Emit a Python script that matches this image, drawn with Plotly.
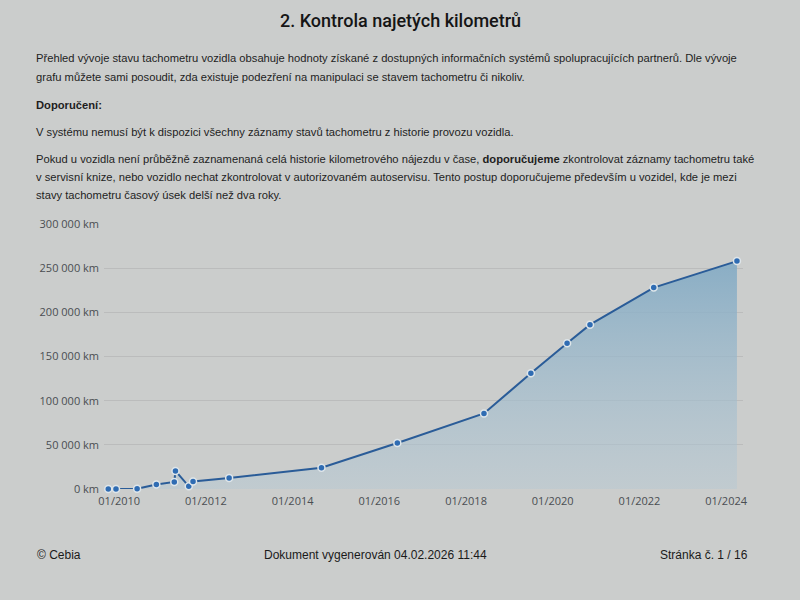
import plotly.graph_objects as go

# ---- data ----
dates = ["2009-10-01", "2009-12-05", "2010-06-01", "2010-11-10", "2011-04-10",
         "2011-04-20", "2011-08-10", "2011-09-15", "2012-07-15", "2014-09-01",
         "2016-06-01", "2018-06-01", "2019-07-01", "2020-05-01", "2020-11-10",
         "2022-05-01", "2024-04-01"]
km = [0, 0, 300, 5000, 8000, 20500, 3000, 8500, 12500, 24000,
      52000, 85500, 131000, 165000, 186000, 228000, 258000]

y_ticks = [0, 50000, 100000, 150000, 200000, 250000, 300000]
y_tick_labels = ["0 km", "50 000 km", "100 000 km", "150 000 km",
                 "200 000 km", "250 000 km", "300 000 km"]
x_ticks = ["2010-01-01", "2012-01-01", "2014-01-01", "2016-01-01",
           "2018-01-01", "2020-01-01", "2022-01-01", "2024-01-01"]
x_tick_labels = ["01/2010", "01/2012", "01/2014", "01/2016",
                 "01/2018", "01/2020", "01/2022", "01/2024"]

title_text = "2. Kontrola najetých kilometrů"
para_lines = [
    "Přehled vývoje stavu tachometru vozidla obsahuje hodnoty získané z dostupných informačních systémů spolupracujících partnerů. Dle vývoje",
    "grafu můžete sami posoudit, zda existuje podezření na manipulaci se stavem tachometru či nikoliv.",
    "<b>Doporučení:</b>",
    "V systému nemusí být k dispozici všechny záznamy stavů tachometru z historie provozu vozidla.",
    "Pokud u vozidla není průběžně zaznamenaná celá historie kilometrového nájezdu v čase, <b>doporučujeme</b> zkontrolovat záznamy tachometru také",
    "v servisní knize, nebo vozidlo nechat zkontrolovat v autorizovaném autoservisu. Tento postup doporučujeme především u vozidel, kde je mezi",
    "stavy tachometru časový úsek delší než dva roky.",
]
footer_left = "© Cebia"
footer_mid = "Dokument vygenerován 04.02.2026 11:44"
footer_right = "Stránka č. 1 / 16"

# ---- layout geometry (pixels) ----
W_FIG, H_FIG = 800, 600
L, R, T, B = 104, 57, 224, 111
PW, PH = W_FIG - L - R, H_FIG - T - B


def px_x(px):
    return (px - L) / PW


def px_y(py):
    return (H_FIG - B - py) / PH


BG = "#cbcdcc"
FONT = "Liberation Sans"

fig = go.Figure()
fig.add_trace(go.Scatter(
    x=dates, y=km, mode="lines+markers",
    line=dict(color="#2a5c98", width=2),
    marker=dict(color="#2f6cb3", size=7, line=dict(color="#dfe6ea", width=1.5)),
    fill="tozeroy",
    fillgradient=dict(type="vertical",
                      colorscale=[[0, "rgba(180,200,212,0.45)"],
                                  [1, "rgba(130,170,196,0.9)"]]),
    cliponaxis=False,
    hoverinfo="skip",
))

annotations = []
annotations.append(dict(text=title_text, x=px_x(400), y=px_y(20), xref="paper", yref="paper",
                        xanchor="center", yanchor="middle", showarrow=False,
                        font=dict(family="Roboto", size=18, weight=500, color="#151515")))
line_y = [58, 77, 105, 132, 159, 177, 195]
for txt, py in zip(para_lines, line_y):
    annotations.append(dict(text=txt, x=px_x(34), y=px_y(py), xref="paper", yref="paper",
                            xanchor="left", yanchor="middle", showarrow=False,
                            font=dict(family=FONT, size=11.2, color="#1e1e1e")))
annotations.append(dict(text=footer_left, x=px_x(35), y=px_y(555), xref="paper", yref="paper",
                        xanchor="left", yanchor="middle", showarrow=False,
                        font=dict(family=FONT, size=12, color="#1a1a1a")))
annotations.append(dict(text=footer_mid, x=px_x(375), y=px_y(555), xref="paper", yref="paper",
                        xanchor="center", yanchor="middle", showarrow=False,
                        font=dict(family=FONT, size=12, color="#1a1a1a")))
annotations.append(dict(text=footer_right, x=px_x(750), y=px_y(555), xref="paper", yref="paper",
                        xanchor="right", yanchor="middle", showarrow=False,
                        font=dict(family=FONT, size=12, color="#1a1a1a")))

fig.update_layout(
    width=W_FIG, height=H_FIG,
    margin=dict(l=L, r=R, t=T, b=B),
    paper_bgcolor=BG, plot_bgcolor=BG,
    showlegend=False,
    annotations=annotations,
    xaxis=dict(type="date", range=["2009-08-26", "2024-05-22"],
               tickvals=x_ticks, ticktext=x_tick_labels,
               showgrid=False, zeroline=False, showline=False,
               ticks="", ticklabelstandoff=4,
               tickfont=dict(family="Open Sans", size=11, color="#4a4d52")),
    yaxis=dict(range=[0, 300000], tickvals=y_ticks, ticktext=y_tick_labels,
               showgrid=True, gridcolor="rgba(0,0,0,0.08)", gridwidth=1,
               zeroline=False, showline=False, ticks="", ticklabelstandoff=4,
               tickfont=dict(family="Open Sans", size=11, color="#4a4d52")),
)

fig.write_html("out.html")
